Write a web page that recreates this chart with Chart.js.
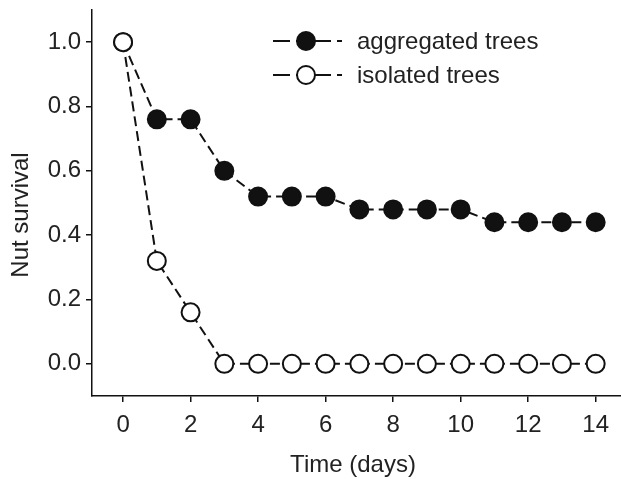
<!DOCTYPE html>
<html>
<head>
<meta charset="utf-8">
<script src="https://cdn.jsdelivr.net/npm/chart.js@4/dist/chart.umd.min.js"></script>
<style>
  html, body { margin: 0; padding: 0; background: #fff; }
  #wrap { width: 621px; height: 479px; }
</style>
</head>
<body>
<div id="wrap"><canvas id="grafico" width="621" height="479"></canvas></div>
<script>
var dias = [0, 1, 2, 3, 4, 5, 6, 7, 8, 9, 10, 11, 12, 13, 14];
var agregados = [1.0, 0.76, 0.76, 0.6, 0.52, 0.52, 0.52, 0.48, 0.48, 0.48, 0.48, 0.44, 0.44, 0.44, 0.44];
var aislados = [1.0, 0.32, 0.16, 0, 0, 0, 0, 0, 0, 0, 0, 0, 0, 0, 0];
var ticksX = [0, 2, 4, 6, 8, 10, 12, 14];
var ticksY = [0, 0.2, 0.4, 0.6, 0.8, 1.0];
var tituloX = 'Time (days)';
var tituloY = 'Nut survival';

function puntos(valores) {
    return dias.map(function (d, i) { return { x: d, y: valores[i] }; });
}

var fuente = "'Liberation Sans', Arial, sans-serif";
Chart.defaults.font.family = fuente;
Chart.defaults.font.size = 24;
Chart.defaults.color = '#222';

// leyenda y titulos de los ejes dibujados a mano
var extras = {
    id: 'extras',
    afterDraw: function (chart) {
        var ctx = chart.ctx;
        var filas = [chart.data.datasets[1], chart.data.datasets[0]];
        ctx.save();
        ctx.font = '24px ' + fuente;
        filas.forEach(function (ds, i) {
            var y = 41 + i * 34;
            ctx.strokeStyle = '#111';
            ctx.lineWidth = 2;
            ctx.setLineDash([17, 6, 35, 6, 5, 100]);
            ctx.beginPath();
            ctx.moveTo(273, y);
            ctx.lineTo(342, y);
            ctx.stroke();
            ctx.setLineDash([]);
            ctx.beginPath();
            ctx.arc(306, y, 9, 0, Math.PI * 2);
            ctx.fillStyle = ds.pointBackgroundColor;
            ctx.fill();
            ctx.stroke();
            ctx.fillStyle = '#222';
            ctx.textBaseline = 'middle';
            ctx.textAlign = 'left';
            ctx.fillText(ds.label, 357, y + 1);
        });
        ctx.textAlign = 'center';
        ctx.textBaseline = 'middle';
        ctx.fillStyle = '#222';
        ctx.fillText(tituloX, 353, 465);
        ctx.translate(21, 215);
        ctx.rotate(-Math.PI / 2);
        ctx.fillText(tituloY, 0, 0);
        ctx.restore();
    }
};

var ctx = document.getElementById('grafico').getContext('2d');
var grafico = new Chart(ctx, {
    type: 'line',
    data: {
        datasets: [{
            label: 'isolated trees',
            data: puntos(aislados),
            borderColor: '#111',
            borderWidth: 2,
            borderDash: [10, 5],
            pointRadius: 9,
            pointBorderWidth: 2,
            pointBackgroundColor: '#fff',
            pointBorderColor: '#111',
            tension: 0
        }, {
            label: 'aggregated trees',
            data: puntos(agregados),
            borderColor: '#111',
            borderWidth: 2,
            borderDash: [10, 5],
            pointRadius: 9,
            pointBorderWidth: 2,
            pointBackgroundColor: '#111',
            pointBorderColor: '#111',
            tension: 0
        }]
    },
    options: {
        responsive: false,
        animation: false,
        clip: false,
        layout: { autoPadding: false, padding: { top: 10, right: 0, left: 0, bottom: 0 } },
        plugins: {
            legend: { display: false },
            tooltip: { enabled: false }
        },
        scales: {
            x: {
                type: 'linear',
                min: -0.92,
                max: 14.75,
                afterBuildTicks: function (scale) {
                    scale.ticks = ticksX.map(function (v) { return { value: v }; });
                },
                afterFit: function (scale) {
                    scale.height = 83;
                    scale.paddingLeft = 0;
                    scale.paddingRight = 0;
                },
                grid: { display: true, drawOnChartArea: false, drawTicks: true, tickLength: 6, color: '#111', lineWidth: 1.5 },
                border: { display: true, color: '#111', width: 1.5 },
                ticks: { padding: 9, maxRotation: 0, callback: function (v) { return v; } }
            },
            y: {
                min: -0.1,
                max: 1.1,
                afterBuildTicks: function (scale) {
                    scale.ticks = ticksY.map(function (v) { return { value: v }; });
                },
                afterFit: function (scale) {
                    scale.width = 92;
                    scale.paddingTop = 0;
                    scale.paddingBottom = 0;
                },
                grid: { display: true, drawOnChartArea: false, drawTicks: true, tickLength: 6, color: '#111', lineWidth: 1.5 },
                border: { display: true, color: '#111', width: 1.5 },
                ticks: { padding: 5, callback: function (v) { return v.toFixed(1); } }
            }
        }
    },
    plugins: [extras]
});
</script>
</body>
</html>
